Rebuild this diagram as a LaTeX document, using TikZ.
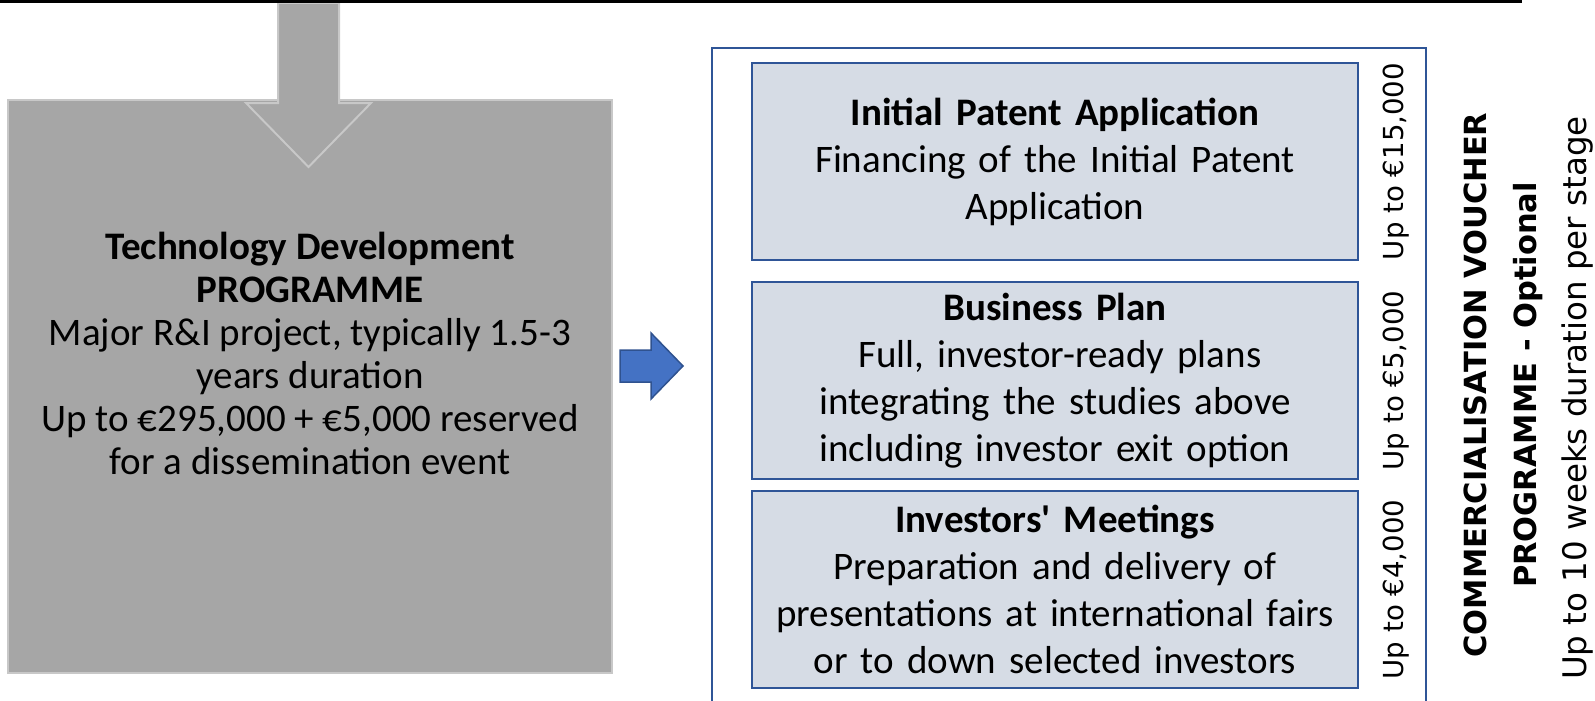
\documentclass[tikz,border=0pt]{standalone}
\usepackage{fontspec}
\setmainfont{Carlito}
\newfontfamily\widesans{DejaVu Sans}

\definecolor{boxgray}{HTML}{A6A6A6}
\definecolor{edgegray}{HTML}{C8C8C8}
\definecolor{stagefill}{HTML}{D6DCE5}
\definecolor{frameblue}{HTML}{2F5597}
\definecolor{arrowblue}{HTML}{4472C4}
\definecolor{arrowedge}{HTML}{2F528F}

\begin{document}
\begin{tikzpicture}[x=1pt,y=-1pt,
  programmebox/.style={draw=edgegray, fill=boxgray, line width=2pt,
    minimum width=604pt, minimum height=573pt, inner sep=0pt},
  programmetext/.style={inner sep=0pt, align=center,
    font=\fontsize{39}{43}\selectfont},
  blockarrowgray/.style={draw=edgegray, fill=boxgray, line width=2pt, line join=miter},
  blockarrowblue/.style={draw=arrowedge, fill=arrowblue, line width=1.5pt, line join=miter},
  frame/.style={draw=frameblue, line width=2pt, inner sep=0pt,
    minimum width=714pt, minimum height=662pt},
  stagebox/.style={draw=frameblue, fill=stagefill, line width=2pt,
    minimum width=606pt, minimum height=197pt, inner sep=0pt,
    text width=590pt, align=center, font=\fontsize{39}{47}\selectfont},
  amount/.style={rotate=90, anchor=base, inner sep=0pt,
    font=\widesans\fontsize{27.6}{33}\selectfont},
  sidetitle/.style={rotate=90, inner sep=0pt, align=center,
    font=\widesans\fontsize{30.5}{50}\selectfont}
]
\useasboundingbox (0,0) rectangle (1595,701);

% left programme box and its text
\node[programmebox] (tdp) at (310,386.5) {};
\node[programmetext] (tdptext) at (310,353)
  {\textbf{Technology Development}\\
   \textbf{PROGRAMME}\\
   Major R\&I project, typically 1.5-3\\
   years duration\\
   Up to €295,000 + €5,000 reserved\\
   for a dissemination event};

% block arrow entering the programme box from above
\draw[blockarrowgray] (278,3) -- (339,3) -- (339,103) -- (371,103)
  -- (308.5,167) -- (246,103) -- (278,103) -- cycle;

% rule across the top
\draw[line width=3pt] (0,1.5) -- (1522,1.5);

% block arrow towards the voucher stages
\draw[blockarrowblue] (620,350) -- (651,350) -- (651,333) -- (683,366)
  -- (651,399) -- (651,382) -- (620,382) -- cycle;

% voucher programme frame
\node[frame] (cvp) at (1069,379) {};

% stages
\node[stagebox] (ipa) at (1055,161.5)
  {\textbf{Initial Patent Application}\\
   Financing of the Initial Patent\\
   Application};
\node[stagebox] (bp) at (1055,380.5)
  {\textbf{Business Plan}\\
   \hspace*{0.25em}Full, investor-ready plans\\
   integrating the studies above\\
   including investor exit option};
\node[stagebox] (im) at (1055,589.5)
  {\textbf{Investors\textquotesingle{} Meetings}\\
   Preparation and delivery of\\
   presentations at international fairs\\
   or to down selected investors};

% amounts per stage
\node[amount] (a1) at (1403,161.5) {Up to €15,000};
\node[amount] (a2) at (1403,380.5) {Up to €5,000};
\node[amount] (a3) at (1403,589.5) {Up to €4,000};

% programme title
\node[sidetitle] (title) at (1529,385)
  {{\bfseries COMMERCIALISATION VOUCHER}\\
   {\bfseries PROGRAMME - Optional}\\
   {\fontsize{32.5}{50}\selectfont Up to 10 weeks duration per stage\hspace*{26pt}}};
\end{tikzpicture}
\end{document}
